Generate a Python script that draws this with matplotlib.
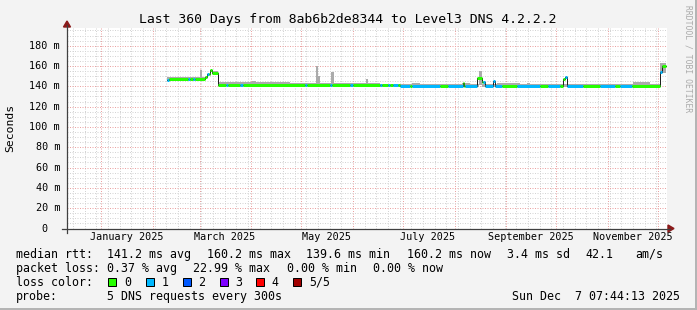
import matplotlib
matplotlib.use('Agg')
import matplotlib.pyplot as plt
import matplotlib.dates as mdates
import matplotlib.transforms as mtrans
from matplotlib.lines import Line2D
from matplotlib.patches import Rectangle, Polygon
from matplotlib.ticker import MultipleLocator
import numpy as np
import datetime as dt

# ---------------- data ----------------
title = "Last 360 Days from 8ab6b2de8344 to Level3 DNS 4.2.2.2"
graph_end = dt.datetime(2025, 12, 6, 10, 0)
span_days = 360

# median rtt steps: start day (from graph start) and value in ms
median_day = [60.0, 61.2, 82.8, 84.0, 85.5, 87.0, 90.8, 157.8, 199.8, 237.3, 238.2,
              246.0, 249.0, 250.5, 255.3, 256.5, 297.6, 298.8, 300.0, 355.5, 356.7]
median_ms = [146.0, 147.2, 149.5, 152.0, 156.0, 153.0, 141.4, 141.1, 140.8, 143.4, 140.8,
             148.0, 143.8, 140.8, 145.5, 140.8, 147.4, 148.7, 140.8, 154.3, 160.5]
median_end = 359.4

# runs with 1 of 5 packets lost (rest: no loss)
loss1_start = [60.0, 72.6, 75.6, 84.0, 95.4, 103.8, 142.8, 157.8, 169.8, 187.8, 192.6, 195.6,
               199.8, 207.0, 228.6, 238.8, 249.6, 270.0, 288.6, 298.8, 300.0, 319.8, 331.8, 355.5]
loss1_end = [61.2, 73.5, 76.5, 85.2, 96.6, 105.3, 143.7, 158.7, 171.6, 189.0, 193.8, 198.6,
             205.8, 223.8, 237.6, 246.0, 261.0, 283.8, 295.8, 300.0, 309.6, 328.8, 339.0, 356.7]

# smoke (spread of the pings): start day, end day, low ms, high ms
smoke_start = [60.0, 79.8, 87.0, 90.8, 111.0, 133.8, 149.4, 150.6, 158.4, 166.8, 179.4, 187.8,
               207.0, 211.8, 237.0, 241.8, 247.2, 249.0, 258.0, 271.8, 276.0, 304.8, 319.8,
               339.6, 346.8, 352.8, 355.8]
smoke_end = [82.8, 81.0, 90.8, 133.8, 113.4, 166.8, 150.6, 151.8, 160.2, 187.8, 180.6, 207.0,
             211.8, 237.0, 241.8, 247.2, 249.0, 258.0, 271.8, 304.8, 277.8, 319.8, 339.6,
             349.8, 352.8, 355.8, 359.4]
smoke_lo = [145.5, 146.0, 152.0, 140.5, 140.5, 140.5, 141.0, 141.0, 141.0, 140.3, 140.5, 139.8,
            140.0, 139.8, 140.0, 139.8, 141.0, 139.8, 140.0, 139.8, 140.0, 139.3, 139.8,
            139.5, 138.5, 139.5, 153.0]
smoke_hi = [149.0, 156.0, 155.0, 144.0, 145.0, 143.0, 160.5, 150.0, 154.3, 143.5, 147.4, 142.0,
            143.5, 142.0, 143.3, 142.0, 155.3, 142.0, 143.3, 142.0, 143.0, 142.0, 142.0,
            144.7, 142.0, 142.0, 162.8]

loss_labels = ["0", "1", "2", "3", "4", "5/5"]
loss_colors = ["#26ff00", "#00b8ff", "#0059ff", "#7e00ff", "#ff0000", "#a10000"]

y_ticks = [0, 20, 40, 60, 80, 100, 120, 140, 160, 180]
y_labels = ["0", "20 m", "40 m", "60 m", "80 m", "100 m", "120 m", "140 m", "160 m", "180 m"]
x_label_months = [dt.datetime(2025, m, 1) for m in (1, 3, 5, 7, 9, 11)]
x_labels = ["January 2025", "March 2025", "May 2025", "July 2025",
            "September 2025", "November 2025"]

legend_rows = [
    [(16, "median rtt:"), (107.3, "141.2 ms avg"), (206.7, "160.2 ms max"),
     (306, "139.6 ms min"), (407.3, "160.2 ms now"), (506.7, "3.4 ms sd"),
     (585.3, "42.1"), (635, "am/s")],
    [(16, "packet loss:"), (107.3, "0.37 % avg"), (193.5, "22.99 % max"),
     (286.7, "0.00 % min"), (372.7, "0.00 % now")],
    [(16, "loss color:")],
    [(16, "probe:"), (107.3, "5 DNS requests every 300s")],
]
stamp = "Sun Dec  7 07:44:13 2025"

# ---------------- layout ----------------
W, H = 697, 310
MONO = "DejaVu Sans Mono"
X0, X1, Y0, Y1 = 67, 667, 228.5, 28
YMAX = (Y0 - Y1) / ((228.5 - 45.7) / 180.0)

def P(x, y):
    return (x / W, 1 - y / H)

fig = plt.figure(figsize=(W / 100, H / 100), dpi=100, facecolor="#f3f3f3")
ax = fig.add_axes([X0 / W, 1 - Y0 / H, (X1 - X0) / W, (Y0 - Y1) / H])
ax.set_facecolor("white")
for s in ax.spines.values():
    s.set_visible(False)

start = graph_end - dt.timedelta(days=span_days)
t0 = mdates.date2num(start)
ax.set_xlim(t0, mdates.date2num(graph_end))
ax.set_ylim(0, YMAX)

ax.xaxis.set_major_locator(mdates.MonthLocator())
ax.xaxis.set_minor_locator(mdates.WeekdayLocator(byweekday=mdates.SU))
ax.yaxis.set_major_locator(MultipleLocator(20))
ax.yaxis.set_minor_locator(MultipleLocator(5))
ax.tick_params(which="both", labelbottom=False, labelleft=False, length=0)
ax.grid(which="minor", color="#d4d4d4", linestyle=(0, (1, 1.5)), linewidth=0.72)
ax.grid(which="major", color="#eba3a3", linestyle=(0, (1, 1.5)), linewidth=0.72)
ax.set_axisbelow(True)

# smoke
ax.bar([t0 + d for d in smoke_start],
       [h - l for h, l in zip(smoke_hi, smoke_lo)],
       width=[e - s for s, e in zip(smoke_start, smoke_end)],
       bottom=smoke_lo, align="edge", color="#ababab", linewidth=0, zorder=2)

# median: black step line then loss-coloured segments
mx = [t0 + d for d in median_day] + [t0 + median_end]
my = median_ms + [median_ms[-1]]
ax.step(mx, my, where="post", color="#202020", linewidth=0.72, zorder=3)

bounds = sorted(set(median_day + [median_end] + loss1_start + loss1_end))
bounds = [b for b in bounds if median_day[0] <= b <= median_end]
seg_x0, seg_x1, seg_y, seg_c = [], [], [], []
for a, b in zip(bounds[:-1], bounds[1:]):
    idx = int(np.searchsorted(median_day, a, side="right")) - 1
    lost = any(s <= a < e for s, e in zip(loss1_start, loss1_end))
    seg_x0.append(t0 + a)
    seg_x1.append(t0 + b)
    seg_y.append(median_ms[idx])
    seg_c.append(loss_colors[1] if lost else loss_colors[0])
ax.hlines(seg_y, seg_x0, seg_x1, colors=seg_c, linewidth=2.16, zorder=4,
          capstyle="butt")

# y tick labels
ytr = ax.get_yaxis_transform()
for v, lab in zip(y_ticks, y_labels):
    off = -19 if lab == "0" else -7
    tr = mtrans.offset_copy(ytr, fig=fig, x=off, y=0, units="dots")
    ax.text(0, v, lab, transform=tr, ha="right", va="center", family=MONO,
            fontsize=7.3, color="black")

# x labels (centred half a month after month start)
xtr = mtrans.offset_copy(ax.get_xaxis_transform(), fig=fig, x=0, y=-9, units="dots")
for m, lab in zip(x_label_months, x_labels):
    ax.text(mdates.date2num(m + dt.timedelta(days=15)), 0, lab, transform=xtr,
            ha="center", va="center", family=MONO, fontsize=7.3, color="black")

# axes lines and arrows
axis_col = "#404040"
arrow_col = "#8b1a1a"
fig.add_artist(Line2D([P(62, Y0)[0], P(670, Y0)[0]], [P(62, Y0)[1]] * 2,
                      color=axis_col, linewidth=0.9, transform=fig.transFigure))
fig.add_artist(Line2D([P(X0, 233)[0]] * 2, [P(X0, 233)[1], P(X0, 25)[1]],
                      color=axis_col, linewidth=0.9, transform=fig.transFigure))
fig.add_artist(Polygon([P(668, Y0 - 3.5), P(674, Y0), P(668, Y0 + 3.5)], closed=True,
                       color=arrow_col, transform=fig.transFigure))
fig.add_artist(Polygon([P(X0 - 3.5, 27), P(X0, 21), P(X0 + 3.5, 27)], closed=True,
                       color=arrow_col, transform=fig.transFigure))

# title, unit label, watermark
fig.text(*P(348, 19), title, ha="center", va="center", family=MONO, fontsize=9.45)
fig.text(*P(10, 128), "Seconds", rotation=90, ha="center", va="center", family=MONO,
         fontsize=8.2)
fig.text(*P(688, 5), "RRDTOOL / TOBI OETIKER", rotation=270, ha="center", va="top",
         family=MONO, fontsize=5.8, color="#aaaaaa")

# legend
row_y = [254.3, 268.3, 282.3, 296.3]
for ry, row in zip(row_y, legend_rows):
    for x, s in row:
        fig.text(*P(x, ry), s, ha="left", va="center", family=MONO, fontsize=8.4)
box_x = [108.3, 145.7, 182.7, 219.7, 256.3, 293.3]
for bx, lab, col in zip(box_x, loss_labels, loss_colors):
    fig.add_artist(Rectangle(P(bx, row_y[2] + 4), 8 / W, 8 / H, facecolor=col,
                             edgecolor="black", linewidth=0.72, transform=fig.transFigure))
    fig.text(*P(bx + 15.5, row_y[2]), lab, ha="left", va="center", family=MONO,
             fontsize=8.4)
fig.text(*P(680, row_y[3]), stamp, ha="right", va="center", family=MONO, fontsize=8.4)

# frame shading
fig.add_artist(Rectangle((1 - 2 / W, 0), 2 / W, 1, facecolor="#b4b4b4", linewidth=0,
                         transform=fig.transFigure))
fig.add_artist(Rectangle((0, 0), 1, 2 / H, facecolor="#b4b4b4", linewidth=0,
                         transform=fig.transFigure))

fig.savefig("out.png", dpi=100, facecolor=fig.get_facecolor())
